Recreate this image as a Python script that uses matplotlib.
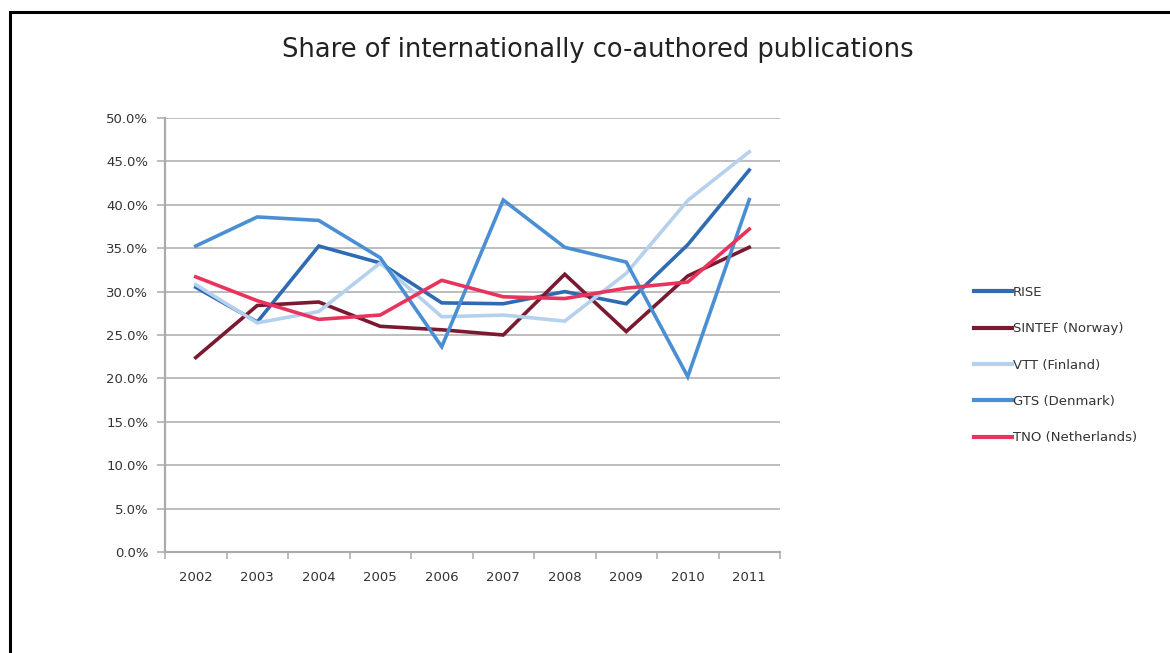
import matplotlib
matplotlib.use("Agg")
import matplotlib.pyplot as plt
from matplotlib.patches import Rectangle
from matplotlib.ticker import FixedLocator, FuncFormatter
import numpy as np

years = ["2002", "2003", "2004", "2005", "2006", "2007", "2008", "2009", "2010", "2011"]
rise = [30.5, 26.5, 35.25, 33.3, 28.7, 28.6, 30.0, 28.6, 35.4, 44.0]
sintef = [22.4, 28.4, 28.8, 26.0, 25.6, 25.0, 32.0, 25.4, 31.8, 35.1]
vtt = [30.8, 26.4, 27.7, 33.3, 27.1, 27.3, 26.6, 32.1, 40.5, 46.1]
gts = [35.25, 38.6, 38.2, 33.9, 23.65, 40.55, 35.1, 33.4, 20.2, 40.6]
tno = [31.7, 28.95, 26.8, 27.3, 31.3, 29.4, 29.2, 30.4, 31.1, 37.2]

series_names = ["RISE", "SINTEF (Norway)", "VTT (Finland)", "GTS (Denmark)", "TNO (Netherlands)"]
series_values = [rise, sintef, vtt, gts, tno]
series_colors = ["#2E6BB3", "#7A1A30", "#B5D1EE", "#4A8FD3", "#E8345C"]

yticks = [0, 5, 10, 15, 20, 25, 30, 35, 40, 45, 50]

W, H = 1170, 653
fig = plt.figure(figsize=(W / 100, H / 100), dpi=100)
fig.patch.set_facecolor("white")

ax = fig.add_axes([165 / W, 1 - 552 / H, (780 - 165) / W, (552 - 118) / H])
x = np.arange(len(years))
for name, vals, col in zip(series_names, series_values, series_colors):
    ax.plot(x, vals, color=col, lw=2.6, label=name, solid_joinstyle="miter")

ax.set_xlim(-0.5, len(years) - 0.5)
ax.set_ylim(0, 50)
ax.yaxis.set_major_locator(FixedLocator(yticks))
ax.yaxis.set_major_formatter(FuncFormatter(lambda v, p: f"{v:.1f}%"))
ax.grid(axis="y", color="#ABABAB", lw=1.1)
ax.set_axisbelow(True)

ax.xaxis.set_major_locator(FixedLocator(np.arange(-0.5, len(years), 1.0)))
ax.xaxis.set_major_formatter(FuncFormatter(lambda v, p: ""))
ax.xaxis.set_minor_locator(FixedLocator(x))
ax.set_xticklabels(years, minor=True)
ax.tick_params(axis="x", which="minor", length=0, pad=14, labelsize=9.5, labelcolor="#333333")
ax.tick_params(axis="x", which="major", length=5, color="#ABABAB", width=1.1)
ax.tick_params(axis="y", length=6, color="#ABABAB", width=1.1, labelsize=9.5, labelcolor="#333333", pad=6)

for s in ["top", "right"]:
    ax.spines[s].set_visible(False)
for s in ["left", "bottom"]:
    ax.spines[s].set_color("#ABABAB")
    ax.spines[s].set_linewidth(1.6)

fig.text(598 / W, 1 - 50 / H, "Share of internationally co-authored publications",
         ha="center", va="center", fontsize=18.5, color="#222222")

leg = fig.legend(loc="center left", bbox_to_anchor=(962 / W, 1 - 365 / H),
                 frameon=False, handlelength=2.9, handletextpad=0.05,
                 labelspacing=1.77, fontsize=9.5)
for t in leg.get_texts():
    t.set_color("#333333")
for l in leg.get_lines():
    l.set_linewidth(3.0)

fig.patches.append(Rectangle((10 / W, -0.1), 1.2, 1 - 12 / H + 0.1, transform=fig.transFigure,
                             fill=False, edgecolor="black", lw=2.2))

fig.savefig("out.png", dpi=100, facecolor="white")
